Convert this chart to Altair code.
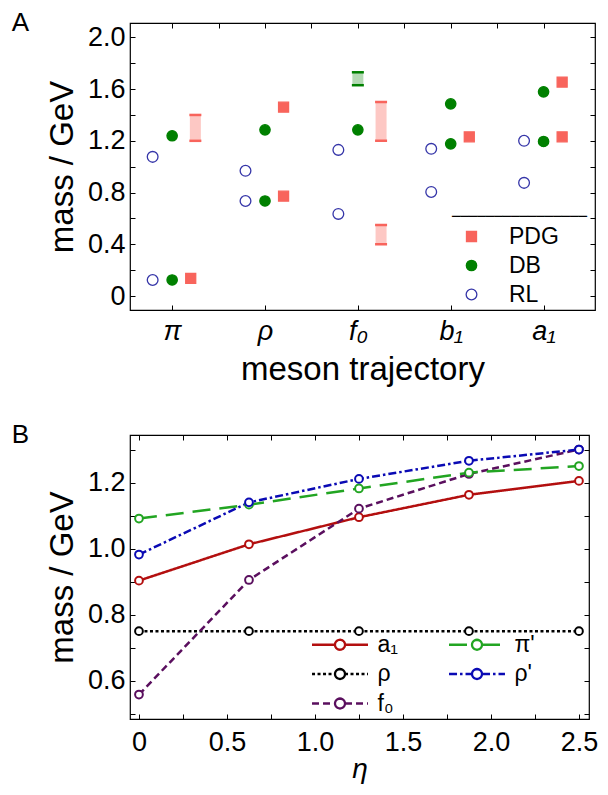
import math
import altair as alt
import pandas as pd

# ---------------- data: panel A ----------------
categories = ["π", "ρ", "f₀", "b₁", "a₁"]
series_names = ["PDG", "DB", "RL"]

rl_cat = ["π", "π", "ρ", "ρ", "f₀", "f₀", "b₁", "b₁", "a₁", "a₁"]
rl_mass = [1.076, 0.124, 0.968, 0.735, 1.130, 0.635, 1.138, 0.805, 1.200, 0.875]

db_cat = ["π", "π", "ρ", "ρ", "f₀", "b₁", "b₁", "a₁", "a₁"]
db_mass = [1.239, 0.124, 1.285, 0.735, 1.285, 1.486, 1.177, 1.579, 1.195]

pdg_cat = ["π", "ρ", "ρ", "b₁", "a₁", "a₁"]
pdg_mass = [0.137, 0.772, 1.460, 1.231, 1.231, 1.654]

pdg_band_cat = ["π", "f₀", "f₀"]
pdg_band_lo = [1.20, 1.20, 0.40]
pdg_band_hi = [1.40, 1.50, 0.55]

db_band_cat = ["f₀"]
db_band_lo = [1.63]
db_band_hi = [1.73]

# ---------------- data: panel B ----------------
eta = [0.0, 0.625, 1.25, 1.875, 2.5]
m_a1 = [0.903, 1.013, 1.095, 1.163, 1.205]
m_rho = [0.750, 0.750, 0.750, 0.750, 0.750]
m_f0 = [0.558, 0.905, 1.121, 1.226, 1.300]
m_pi2 = [1.091, 1.133, 1.182, 1.230, 1.250]
m_rho2 = [0.982, 1.140, 1.211, 1.266, 1.300]
# legend order (filled column by column): a1, rho, f0 | pi', rho'
line_names = ["a₁", "ρ", "f₀", "π'", "ρ'"]
line_values = {"a₁": m_a1, "ρ": m_rho, "f₀": m_f0, "π'": m_pi2, "ρ'": m_rho2}

# ---------------- styles ----------------
FONT = "Liberation Sans"
SALMON = "#f8645c"
PINK = "#fdc8c4"
GREEN = "#008000"
PALEGREEN = "#b4d9b4"
RLBLUE = "#3535a8"
X_OFFSET = {"RL": -0.21, "DB": 0.0, "PDG": 0.2, "PDGband": 0.25, "DBband": 0.0}
line_colors = ["#b30f0f", "#000000", "#5a0f5e", "#22a522", "#0a0ab4"]
line_dashes = [[1, 0], [3, 2.5], [7, 4], [18, 9], [8, 3, 2.5, 3]]

TICK_FS = 27
TITLE_FS = 33

# ---------------- frames ----------------
pts = pd.concat([
    pd.DataFrame({"series": "RL", "cat": rl_cat, "mass": rl_mass}),
    pd.DataFrame({"series": "DB", "cat": db_cat, "mass": db_mass}),
    pd.DataFrame({"series": "PDG", "cat": pdg_cat, "mass": pdg_mass}),
], ignore_index=True)
pts["xpos"] = pts["cat"].map(categories.index) + pts["series"].map(X_OFFSET)

pdg_bands = pd.DataFrame({"cat": pdg_band_cat, "lo": pdg_band_lo, "hi": pdg_band_hi})
pdg_bands["xpos"] = pdg_bands["cat"].map(categories.index) + X_OFFSET["PDGband"]
db_bands = pd.DataFrame({"cat": db_band_cat, "lo": db_band_lo, "hi": db_band_hi})
db_bands["xpos"] = db_bands["cat"].map(categories.index) + X_OFFSET["DBband"]

rows = []
for name in line_names:
    for e, m in zip(eta, line_values[name]):
        rows.append({"series": name, "eta": e, "mass": m})
lines_df = pd.DataFrame(rows)

# ---------------- helpers ----------------
def tick_axis(orient, offset, values):
    return alt.Axis(orient=orient, offset=offset, values=values, labels=False,
                    domain=False, grid=False, ticks=True, tickSize=5,
                    tickColor="black", tickWidth=1, title="")

def panel_title(letter):
    return alt.TitleParams(text=letter, orient="left", anchor="end", angle=0,
                           baseline="middle", align="right", fontSize=26,
                           fontWeight="normal", font=FONT, color="black", offset=0)

# legend glyph for panel B: line with a gap and a small open circle; the circle is
# drawn as short separate sub-paths so that every dash pattern shows it solid.
R_C = 0.49
_arcs = []
for k in range(12):
    a0, a1 = 2 * math.pi * k / 12, 2 * math.pi * (k + 1) / 12
    _arcs.append("M%.3f,%.3fA%.2f,%.2f 0 0,1 %.3f,%.3f" % (
        R_C * math.cos(a0), R_C * math.sin(a0), R_C, R_C, R_C * math.cos(a1), R_C * math.sin(a1)))
LEGEND_GLYPH = "M-2.73,0L-0.49,0M0.49,0L2.73,0" + "".join(_arcs)

# ---------------- panel A ----------------
W1, H1 = 465, 287
xs1 = alt.Scale(domain=[-0.4, 4.5], nice=False, zero=False)
ys1 = alt.Scale(domain=[-0.108, 2.111], nice=False, zero=False)

cat_expr = "[" + ",".join("'" + c + "'" for c in categories) + "][datum.value]"
ax_x1 = alt.Axis(orient="bottom", values=list(range(len(categories))), labelExpr=cat_expr,
                 ticks=False, tickSize=0, domain=False, grid=False, labelPadding=8,
                 labelFontStyle="italic", labelFontSize=TICK_FS, title="meson trajectory",
                 titlePadding=9, titleFontSize=TITLE_FS)
ax_y1 = alt.Axis(orient="left", values=[0, 0.4, 0.8, 1.2, 1.6, 2.0],
                 labelExpr="datum.value == 0 ? '0' : format(datum.value, '.1f')",
                 ticks=False, tickSize=0, domain=False, grid=False, labelPadding=5,
                 labelFontSize=TICK_FS, title="mass / GeV", titlePadding=8,
                 titleFontSize=TITLE_FS)
y_minor1 = [round(0.2 * i, 1) for i in range(11)]
x_half1 = [0.5 * i for i in range(9)]

leg_top = alt.Legend(orient="none", legendX=322, legendY=187, title="─" * 16,
                     titleFont="DejaVu Sans Mono", titleFontSize=14, titleFontWeight="normal",
                     titleColor="black", titlePadding=1, padding=0, labelFont=FONT,
                     labelFontSize=23, labelColor="black", labelOffset=26, symbolOffset=8,
                     rowPadding=5, symbolStrokeWidth=1.3)

bars_pdg = alt.Chart(pdg_bands).mark_bar(size=11, color=PINK).encode(
    x=alt.X("xpos:Q", scale=xs1, axis=tick_axis("top", -H1, list(range(5)))),
    y=alt.Y("lo:Q", scale=ys1, axis=tick_axis("right", -W1, y_minor1)),
    y2="hi:Q",
)
caps_pdg = alt.Chart(pdg_bands).transform_fold(["lo", "hi"], as_=["end", "val"]).mark_tick(
    orient="horizontal", size=12, thickness=2.5, color=SALMON, opacity=1).encode(
    x=alt.X("xpos:Q", scale=xs1, axis=tick_axis("bottom", -H1, x_half1)),
    y=alt.Y("val:Q", scale=ys1, axis=tick_axis("left", -W1, y_minor1)),
)
bars_db = alt.Chart(db_bands).mark_bar(size=11, color=PALEGREEN).encode(
    x=alt.X("xpos:Q", scale=xs1, axis=None),
    y=alt.Y("lo:Q", scale=ys1, axis=None),
    y2="hi:Q",
)
caps_db = alt.Chart(db_bands).transform_fold(["lo", "hi"], as_=["end", "val"]).mark_tick(
    orient="horizontal", size=12, thickness=2.5, color=GREEN, opacity=1).encode(
    x=alt.X("xpos:Q", scale=xs1, axis=None),
    y=alt.Y("val:Q", scale=ys1, axis=None),
)
points_a = alt.Chart(pts).mark_point(filled=True, strokeWidth=1.3, opacity=1).encode(
    x=alt.X("xpos:Q", scale=xs1, axis=ax_x1),
    y=alt.Y("mass:Q", scale=ys1, axis=ax_y1),
    shape=alt.Shape("series:N", scale=alt.Scale(domain=series_names, range=["square", "circle", "circle"]), legend=leg_top),
    fill=alt.Fill("series:N", scale=alt.Scale(domain=series_names, range=[SALMON, GREEN, "transparent"]), legend=leg_top),
    stroke=alt.Stroke("series:N", scale=alt.Scale(domain=series_names, range=[SALMON, GREEN, RLBLUE]), legend=leg_top),
    size=alt.Size("series:N", scale=alt.Scale(domain=series_names, range=[100, 115, 45]), legend=leg_top),
)

top = alt.layer(bars_pdg, bars_db, caps_pdg, caps_db, points_a).resolve_axis(
    x="independent", y="independent").properties(width=W1, height=H1, title=panel_title("A"))

# ---------------- panel B ----------------
W2, H2 = 459, 284
xs2 = alt.Scale(domain=[-0.051, 2.557], nice=False, zero=False)
ys2 = alt.Scale(domain=[0.484, 1.344], nice=False, zero=False)

ax_x2 = alt.Axis(orient="bottom", values=[0, 0.5, 1.0, 1.5, 2.0, 2.5],
                 labelExpr="datum.value == 0 ? '0' : format(datum.value, '.1f')",
                 ticks=False, tickSize=0, domain=False, grid=False, labelPadding=10,
                 labelFontSize=TICK_FS, title="η", titleFontStyle="italic", titlePadding=0,
                 titleFontSize=28)
ax_y2 = alt.Axis(orient="left", values=[0.6, 0.8, 1.0, 1.2], format=".1f",
                 ticks=False, tickSize=0, domain=False, grid=False, labelPadding=5,
                 labelFontSize=TICK_FS, title="mass / GeV", titlePadding=8,
                 titleFontSize=TITLE_FS)
x_minor2 = [0.25 * i for i in range(11)]
y_minor2 = [round(0.5 + 0.1 * i, 1) for i in range(9)]

leg_lines = alt.Legend(title=None, orient="none", legendX=182, legendY=198, columns=2,
                       padding=0, labelFont=FONT, labelFontSize=23, labelColor="black",
                       rowPadding=5.5, columnPadding=45, symbolSize=420,
                       symbolStrokeWidth=2.3, symbolOffset=16.5, labelOffset=26,
                       symbolType=LEGEND_GLYPH, symbolFillColor="white")

lines_b = alt.Chart(lines_df).mark_line(strokeWidth=2.5).encode(
    x=alt.X("eta:Q", scale=xs2, axis=ax_x2),
    y=alt.Y("mass:Q", scale=ys2, axis=ax_y2),
    color=alt.Color("series:N", scale=alt.Scale(domain=line_names, range=line_colors), legend=leg_lines),
    strokeDash=alt.StrokeDash("series:N", scale=alt.Scale(domain=line_names, range=line_dashes), legend=leg_lines),
)
points_b = alt.Chart(lines_df).mark_point(filled=True, fill="white", size=60, strokeWidth=2, opacity=1).encode(
    x=alt.X("eta:Q", scale=xs2, axis=tick_axis("top", -H2, x_minor2)),
    y=alt.Y("mass:Q", scale=ys2, axis=tick_axis("right", -W2, y_minor2)),
    stroke=alt.Stroke("series:N", scale=alt.Scale(domain=line_names, range=line_colors), legend=None),
)
frame_b = alt.Chart(lines_df).mark_point(opacity=0).encode(
    x=alt.X("eta:Q", scale=xs2, axis=tick_axis("bottom", -H2, x_minor2)),
    y=alt.Y("mass:Q", scale=ys2, axis=tick_axis("left", -W2, y_minor2)),
)

bottom = alt.layer(lines_b, points_b, frame_b).resolve_axis(
    x="independent", y="independent").properties(width=W2, height=H2, title=panel_title("B"))

chart = alt.vconcat(top, bottom, spacing=125, bounds="flush").resolve_scale(
    color="independent", fill="independent", stroke="independent", shape="independent",
    size="independent", strokeDash="independent"
).resolve_legend(
    color="independent", fill="independent", stroke="independent", shape="independent",
    size="independent", strokeDash="independent"
).properties(
    padding={"left": 3, "top": 0, "right": 0, "bottom": 0}
).configure_view(stroke="black", strokeWidth=1.2).configure_axis(
    labelFont=FONT, titleFont=FONT, labelColor="black", titleColor="black",
    titleFontWeight="normal"
).configure_legend(labelFont=FONT, labelColor="black")

chart.save("out.html", embed_options={"renderer": "svg", "actions": False})
